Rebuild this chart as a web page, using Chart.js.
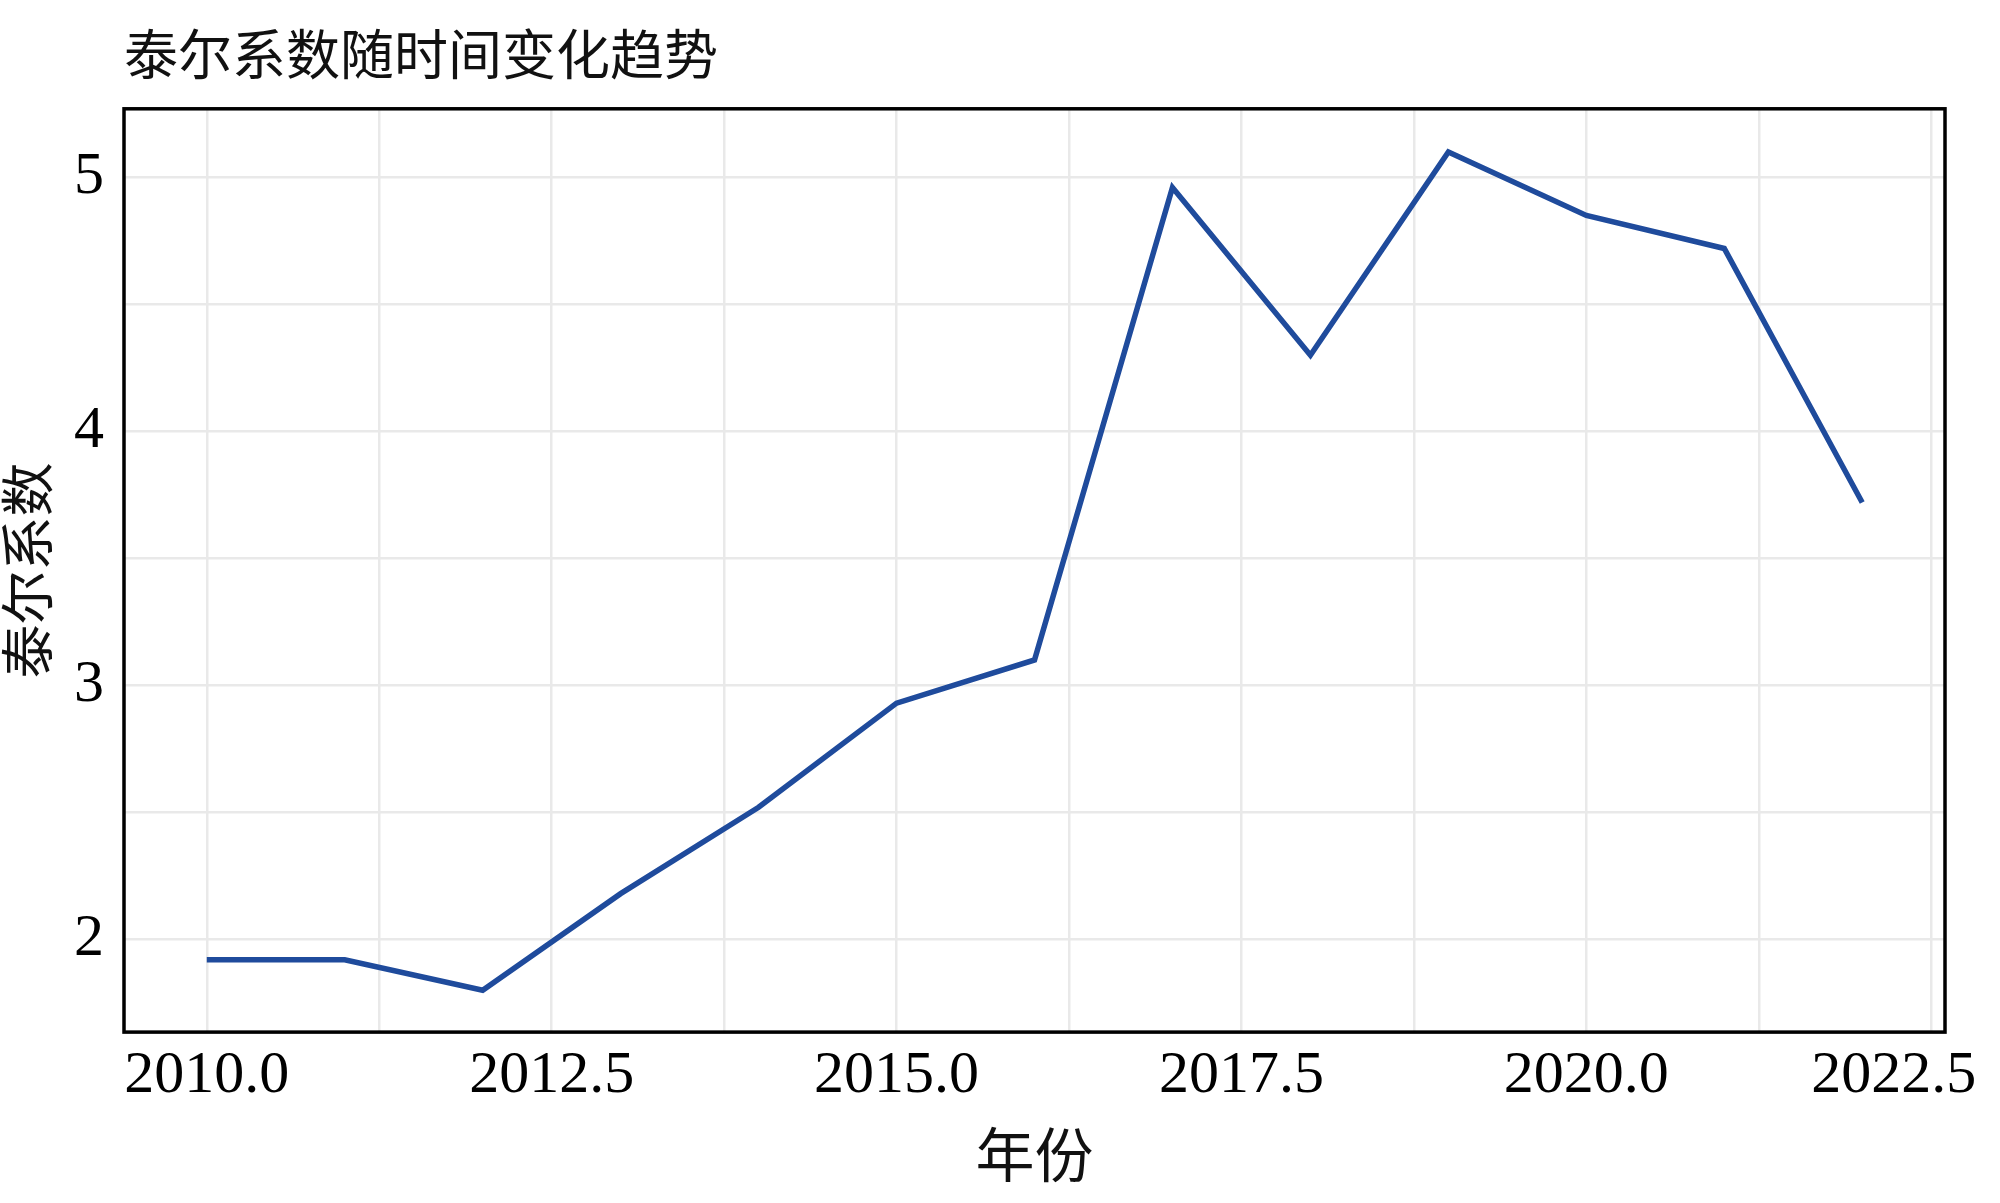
<!DOCTYPE html>
<html>
<head>
<meta charset="utf-8">
<script src="https://cdn.jsdelivr.net/npm/chart.js@4/dist/chart.umd.min.js"></script>
<style>
    html, body { margin: 0; padding: 0; background: #ffffff; }
    canvas { display: block; }
</style>
</head>
<body>
<canvas id="chart" width="2000" height="1203"></canvas>
<script>
// Werte
const years = [2010, 2011, 2012, 2013, 2014, 2015, 2016, 2017, 2018, 2019, 2020, 2021, 2022];
const theil = [1.92, 1.92, 1.80, 2.18, 2.52, 2.93, 3.10, 4.96, 4.30, 5.10, 4.85, 4.72, 3.72];

const xRange = [2009.4, 2022.6];
const xGridStep = 1.25;
const xLabelStep = 2.5;
const yRange = [1.635, 5.27];
const yGridStep = 0.5;

const chartTitle = '泰尔系数随时间变化趋势';
const xTitle = '年份';
const yTitle = '泰尔系数';

const serif = "'Liberation Serif', 'DejaVu Serif', serif";
const cjk = "'Noto Sans CJK SC', 'Noto Sans', sans-serif";
const gridColor = 'rgb(233,233,233)';

function isMultiple(value, step) {
    let q = value / step;
    return Math.abs(q - Math.round(q)) < 1e-6;
}

// Rahmen um die Zeichenfläche
const frame = {
    id: 'frame',
    beforeDatasetsDraw(chart) {
        let a = chart.chartArea;
        let ctx = chart.ctx;
        ctx.save();
        ctx.strokeStyle = '#000000';
        ctx.lineWidth = 3.5;
        ctx.strokeRect(a.left, a.top, a.right - a.left, a.bottom - a.top);
        ctx.restore();
    }
};

let points = [];
for (let i = 0; i < years.length; i++) {
    points.push({x: years[i], y: theil[i]});
}

new Chart(document.getElementById('chart'), {
    type: 'line',
    data: {
        datasets: [{
            data: points,
            borderColor: '#1f4b9c',
            borderWidth: 5.5,
            pointRadius: 0,
            tension: 0,
            fill: false
        }]
    },
    options: {
        responsive: false,
        animation: false,
        layout: {padding: {left: 0, right: 55, top: 22, bottom: 16}},
        plugins: {
            legend: {display: false},
            tooltip: {enabled: false},
            title: {
                display: true,
                text: chartTitle,
                align: 'start',
                fullSize: false,
                color: '#111111',
                font: {family: cjk, size: 54, weight: 'normal'},
                padding: {top: 0, bottom: 22}
            }
        },
        scales: {
            x: {
                type: 'linear',
                min: xRange[0],
                max: xRange[1],
                border: {display: false},
                grid: {color: gridColor, lineWidth: 2.5, drawTicks: false},
                ticks: {
                    stepSize: xGridStep,
                    includeBounds: false,
                    maxRotation: 0,
                    autoSkip: false,
                    padding: 8,
                    color: '#000000',
                    font: {family: serif, size: 60},
                    callback: function (value, index, ticks) {
                        if (!isMultiple(value, xLabelStep)) return '';
                        let text = value.toFixed(1);
                        // letzte Beschriftung etwas nach links ruecken
                        if (index === ticks.length - 1) text += '     ';
                        return text;
                    }
                },
                afterFit: function (scale) {
                    scale.paddingRight = 0;
                },
                title: {
                    display: true,
                    text: xTitle,
                    color: '#111111',
                    font: {family: cjk, size: 59, weight: 'normal', lineHeight: 1.1},
                    padding: {top: 2, bottom: 0}
                }
            },
            y: {
                type: 'linear',
                min: yRange[0],
                max: yRange[1],
                border: {display: false},
                grid: {color: gridColor, lineWidth: 2.5, drawTicks: false},
                ticks: {
                    stepSize: yGridStep,
                    includeBounds: false,
                    padding: 20,
                    color: '#000000',
                    font: {family: serif, size: 60},
                    callback: function (value) {
                        return isMultiple(value, 1) ? String(Math.round(value)) : '';
                    }
                },
                title: {
                    display: true,
                    text: yTitle,
                    color: '#111111',
                    font: {family: cjk, size: 54, weight: 'normal', lineHeight: 1.0},
                    padding: {top: 0, bottom: 0}
                }
            }
        }
    },
    plugins: [frame]
});
</script>
</body>
</html>
